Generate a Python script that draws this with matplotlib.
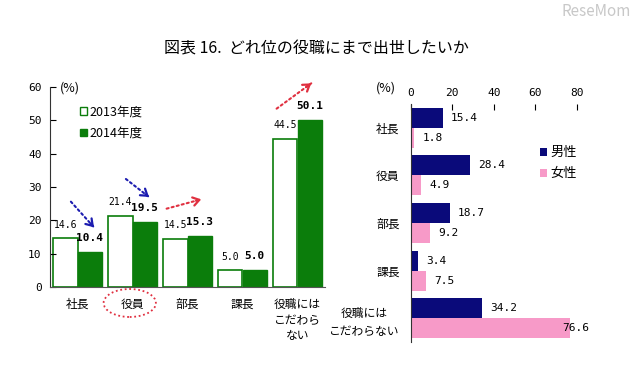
import matplotlib
matplotlib.use('Agg')
import matplotlib.pyplot as plt
import matplotlib.transforms as mtransforms
from matplotlib.patches import Ellipse, Patch
import numpy as np

plt.rcParams['font.family'] = ['Noto Sans CJK JP', 'DejaVu Sans']
MONO = 'DejaVu Sans Mono'

# left chart data
positions = ["社長", "役員", "部長", "課長", "役職には\nこだわら\nない"]
y2013 = [14.6, 21.4, 14.5, 5.0, 44.5]
y2014 = [10.4, 19.5, 15.3, 5.0, 50.1]

# right chart data
positions_r = ["社長", "役員", "部長", "課長", "役職には\nこだわらない"]
male = [15.4, 28.4, 18.7, 3.4, 34.2]
female = [1.8, 4.9, 9.2, 7.5, 76.6]

green = "#0b7d0b"
navy = "#0a0a7a"
pink = "#f79ac8"

fig = plt.figure(figsize=(6.4, 3.66), dpi=100)

# ---------- left: 2013 vs 2014 ----------
ax = fig.add_axes([50/640, 79/366, 275/640, 200/366])
x = np.arange(len(positions))
w = 0.44
ax.bar(x - w/2, y2013, w, color="white", edgecolor=green, linewidth=1.2, label="2013年度")
ax.bar(x + w/2, y2014, w, color=green, edgecolor=green, linewidth=1.0, label="2014年度")
ax.set_xlim(-0.5, len(positions) - 0.5)
ax.set_ylim(0, 60)
ax.set_yticks(range(0, 61, 10))
ax.tick_params(axis="y", direction="in", length=4, labelsize=8, pad=6)
ax.tick_params(axis="x", length=0, labelsize=8.5, pad=8)
for t in ax.get_yticklabels():
    t.set_family(MONO)
ax.set_xticks(x)
ax.set_xticklabels(positions, linespacing=1.25)
ax.spines["top"].set_visible(False)
ax.spines["right"].set_visible(False)
ax.spines["left"].set_color("#333333")
ax.spines["bottom"].set_color("#555555")

for i in range(len(positions)):
    ax.annotate("%.1f" % y2013[i], (x[i] - w/2, y2013[i]), xytext=(0, 9.5),
                textcoords="offset points", ha="center", va="center", fontsize=7,
                family=MONO)
    ax.annotate("%.1f" % y2014[i], (x[i] + w/2, y2014[i]), xytext=(0, 10),
                textcoords="offset points", ha="center", va="center",
                fontsize=8, fontweight="bold", family=MONO)

# dotted trend arrows
for i in range(len(positions)):
    d = y2014[i] - y2013[i]
    if abs(d) < 0.5:
        continue
    if d < 0:
        col = "#1c1cb0"
        tail = (x[i] - 0.12, y2013[i] + 11)
        head = (x[i] + 0.3, y2014[i] + 7.5)
    else:
        col = "#e03040"
        tail = (x[i] - 0.38, y2013[i] + 9)
        head = (x[i] + 0.25, y2014[i] + 11)
    ax.annotate("", xy=head, xytext=tail, annotation_clip=False,
                arrowprops=dict(arrowstyle="-", linestyle=(0, (1, 1.5)), color=col, lw=1.5,
                                shrinkA=0, shrinkB=0))
    near = (head[0] - (head[0] - tail[0]) * 0.15, head[1] - (head[1] - tail[1]) * 0.15)
    ax.annotate("", xy=head, xytext=near, annotation_clip=False,
                arrowprops=dict(arrowstyle="->,head_length=0.45,head_width=0.3", color=col,
                                lw=1.6, shrinkA=0, shrinkB=0))

# dotted ring around 役員
trans = mtransforms.blended_transform_factory(ax.transData, ax.transAxes)
ax.add_patch(Ellipse((x[1] - 0.05, -0.08), 0.95, 0.14, transform=trans, fill=False,
                     edgecolor="#e03040", linestyle=(0, (1, 1.5)), lw=1.3, clip_on=False))

leg = ax.legend(handles=[Patch(facecolor="white", edgecolor=green, label="2013年度"),
                         Patch(facecolor=green, edgecolor=green, label="2014年度")],
                loc="upper left", bbox_to_anchor=(0.085, 0.94), frameon=False,
                fontsize=9, handlelength=0.55, handleheight=0.55, handletextpad=0.2,
                labelspacing=0.7, borderpad=0)

fig.text(60/640, 1 - 88/366, "(%)", fontsize=9, va="center", ha="left")

# ---------- right: male vs female ----------
ax2 = fig.add_axes([410.7/640, 24/366, 166/640, 238/366])
yr = np.arange(len(positions_r))
h = 0.42
ax2.barh(yr - h/2, male, h, color=navy, label="男性")
ax2.barh(yr + h/2, female, h, color=pink, label="女性")
ax2.set_xlim(0, 80)
ax2.set_ylim(len(positions_r) - 0.5, -0.5)
ax2.set_xticks(range(0, 81, 20))
ax2.xaxis.tick_top()
ax2.tick_params(axis="x", direction="in", length=4, labelsize=8, pad=4)
ax2.tick_params(axis="y", length=0, labelsize=8.5, pad=8)
for t in ax2.get_xticklabels():
    t.set_family(MONO)
ax2.set_yticks(yr)
ax2.set_yticklabels(positions_r, linespacing=1.5)
ax2.get_yticklabels()[-1].set_multialignment("center")
for s in ["top", "right", "bottom"]:
    ax2.spines[s].set_visible(False)
ax2.spines["left"].set_color("#333333")

for i in range(len(positions_r)):
    ax2.annotate("%.1f" % male[i], (male[i], yr[i] - h/2), xytext=(6, 0),
                 textcoords="offset points", ha="left", va="center", fontsize=8,
                 family=MONO)
    off = 6 if female[i] < 70 else -5
    ax2.annotate("%.1f" % female[i], (female[i], yr[i] + h/2), xytext=(off, 0),
                 textcoords="offset points", ha="left", va="center", fontsize=8,
                 family=MONO)

ax2.legend(loc="upper left", bbox_to_anchor=(0.74, 0.85), frameon=False, fontsize=9.5,
           handlelength=0.55, handleheight=0.55, handletextpad=0.25, labelspacing=0.6,
           borderpad=0)

fig.text(376/640, 1 - 88/366, "(%)", fontsize=9, va="center", ha="left")

# title and watermark
fig.text(316/640, 1 - 49/366, "図表 16.  どれ位の役職にまで出世したいか", fontsize=11.5,
         ha="center", va="center")
fig.text(596/640, 1 - 12/366, "ReseMom", fontsize=11, ha="center", va="center", color="#c8c8c8")

fig.savefig("out.png", dpi=100)
